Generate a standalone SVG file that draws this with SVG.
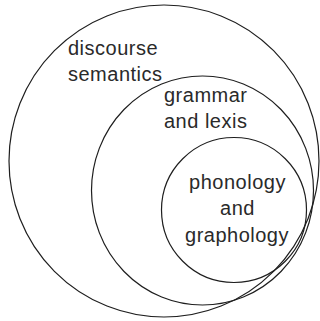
<svg xmlns="http://www.w3.org/2000/svg" width="320" height="321" viewBox="0 0 320 321">
<style>
.ring{fill:none;stroke:#1e1e1e;stroke-width:1.2}
.lbl{font-family:"Liberation Sans",Arial,Helvetica,sans-serif;font-size:20px;letter-spacing:0.5px;fill:#2a2a2a}
.mid{text-anchor:middle}
</style>
<rect width="320" height="321" fill="#ffffff"/>
<g id="discourse-semantics">
<ellipse class="ring" cx="164" cy="161" rx="155" ry="156"/>
<text class="lbl" x="68" y="55">discourse</text>
<text class="lbl" x="68" y="81">semantics</text>
</g>
<g id="grammar-lexis">
<ellipse class="ring" cx="202.5" cy="190.5" rx="111" ry="114.5"/>
<text class="lbl" x="164" y="102">grammar</text>
<text class="lbl" x="164" y="128">and lexis</text>
</g>
<g id="phonology-graphology">
<circle class="ring" cx="234" cy="210" r="72.5"/>
<text class="lbl mid" x="237.5" y="188.5">phonology</text>
<text class="lbl mid" x="237.5" y="215">and</text>
<text class="lbl mid" x="237" y="241.5">graphology</text>
</g>
</svg>
